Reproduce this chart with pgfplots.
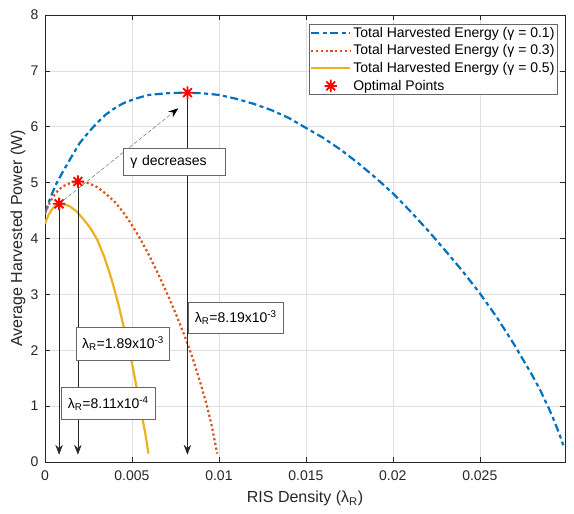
\documentclass[border=0pt]{standalone}
\usepackage{fontspec}
\setmainfont{Liberation Sans}
\usepackage{pgfplots}
\pgfplotsset{compat=1.18}
\usetikzlibrary{arrows.meta}
\definecolor{mblue}{rgb}{0,0.447,0.741}
\definecolor{morange}{rgb}{0.85,0.325,0.098}
\definecolor{myellow}{rgb}{0.929,0.694,0.125}
\definecolor{axgray}{rgb}{0.15,0.15,0.15}
\definecolor{gridgray}{rgb}{0.88,0.88,0.88}
\definecolor{boxgray}{rgb}{0.4,0.4,0.4}
\newcommand\fs{\fontsize{14bp}{16bp}\selectfont}
\newcommand\fl{\fontsize{16bp}{18bp}\selectfont}
\pgfdeclareplotmark{star8}{%
 \pgfpathmoveto{\pgfqpoint{0pt}{\pgfplotmarksize}}\pgfpathlineto{\pgfqpoint{0pt}{-\pgfplotmarksize}}%
 \pgfpathmoveto{\pgfqpoint{\pgfplotmarksize}{0pt}}\pgfpathlineto{\pgfqpoint{-\pgfplotmarksize}{0pt}}%
 \pgfpathmoveto{\pgfqpoint{.7071\pgfplotmarksize}{.7071\pgfplotmarksize}}\pgfpathlineto{\pgfqpoint{-.7071\pgfplotmarksize}{-.7071\pgfplotmarksize}}%
 \pgfpathmoveto{\pgfqpoint{-.7071\pgfplotmarksize}{.7071\pgfplotmarksize}}\pgfpathlineto{\pgfqpoint{.7071\pgfplotmarksize}{-.7071\pgfplotmarksize}}%
 \pgfusepathqstroke}

\pgfplotstableread{
x y
0 4.45
0.0003 4.72
0.0006 4.95
0.001 5.18
0.0015 5.45
0.002 5.71
0.0025 5.90
0.003 6.07
0.0035 6.22
0.004 6.33
0.0045 6.42
0.005 6.48
0.0055 6.53
0.006 6.57
0.007 6.60
0.008 6.61
0.00819 6.61
0.009 6.60
0.010 6.57
0.011 6.50
0.012 6.41
0.013 6.30
0.014 6.16
0.015 5.98
0.016 5.80
0.017 5.59
0.018 5.35
0.019 5.09
0.020 4.81
0.021 4.49
0.022 4.15
0.023 3.79
0.024 3.42
0.025 3.02
0.026 2.58
0.027 2.09
0.028 1.56
0.0285 1.27
0.029 0.94
0.0293 0.72
0.0296 0.48
0.0298 0.30
}\blue

\pgfplotstableread{
x y
0 4.45
0.0003 4.66
0.0006 4.81
0.001 4.93
0.0015 5.00
0.00189 5.02
0.0025 4.99
0.003 4.92
0.0035 4.80
0.004 4.66
0.0045 4.47
0.005 4.24
0.0055 3.98
0.006 3.69
0.0065 3.37
0.007 3.03
0.0075 2.67
0.008 2.28
0.0085 1.85
0.009 1.35
0.0093 1.02
0.0096 0.63
0.0099 0.15
}\red

\pgfplotstableread{
x y
0 4.27
0.0002 4.42
0.0004 4.52
0.0006 4.59
0.000811 4.62
0.001 4.62
0.0014 4.58
0.0018 4.49
0.0022 4.35
0.0026 4.19
0.003 3.98
0.0034 3.68
0.0038 3.30
0.0042 2.85
0.0046 2.32
0.005 1.77
0.0054 1.12
0.0058 0.45
0.00595 0.15
}\yellow

\begin{document}
\begin{tikzpicture}
\begin{axis}[name=ax, scale only axis, width=520bp, height=447bp,
 xmin=0, xmax=0.0299, ymin=0, ymax=8,
 xtick={0,0.005,0.01,0.015,0.02,0.025},
 xticklabels={0,0.005,0.01,0.015,0.02,0.025},
 ytick={0,1,2,3,4,5,6,7,8},
 yticklabels={0,1,2,3,4,5,6,7,8},
 /pgf/number format/assume math mode=true,
 scaled x ticks=false,
 grid=major, major grid style={gridgray, line width=0.5bp},
 axis line style={axgray, line width=0.6bp},
 tick style={axgray, line width=0.5bp}, major tick length=5bp,
 ticklabel style={font=\fs, text=axgray},
 xticklabel style={yshift=-5bp},
 yticklabel style={xshift=-3bp},
 xlabel={RIS Density (λ\textsubscript{R})},
 ylabel={Average Harvested Power (W)},
 label style={font=\fl, text=axgray},
 xlabel style={at={(axis description cs:0.5,-0.0917)}, anchor=base},
 ylabel style={at={(axis description cs:-0.052,0.5)}, anchor=center},
 legend style={at={(axis description cs:0.986,0.98)}, anchor=north east,
   font=\fs, draw=boxgray, line width=0.5bp, fill=white,
   inner xsep=1bp, inner ysep=1bp, row sep=2bp,
   nodes={inner sep=2bp}},
 legend cell align=left,
 legend image code/.code={\draw[mark repeat=2,mark phase=2,#1] plot coordinates {(0bp,0bp) (19.5bp,0bp) (39bp,0bp)};},
]
\addplot[mblue, line width=2.2bp, dash pattern=on 8bp off 3.5bp on 4bp off 3.5bp] table {\blue};
\addlegendentry{Total Harvested Energy (γ = 0.1)}
\addplot[morange, line width=2.2bp, dash pattern=on 2.2bp off 2.6bp] table {\red};
\addlegendentry{Total Harvested Energy (γ = 0.3)}
\addplot[myellow, line width=2.2bp] table {\yellow};
\addlegendentry{Total Harvested Energy (γ = 0.5)}
\addplot[only marks, mark=star8, mark size=6.2bp, red, mark options={line width=1.8bp}] coordinates {(0.000811,4.62) (0.00189,5.02) (0.00819,6.61)};
\addlegendentry{Optimal Points}

\draw[black!85, line width=0.6bp, -{Stealth[length=10bp,width=7.5bp,inset=3.5bp]}] (axis cs:0.000811,4.62) -- (axis cs:0.000811,0.13);
\draw[black!85, line width=0.6bp, -{Stealth[length=10bp,width=7.5bp,inset=3.5bp]}] (axis cs:0.00189,5.02) -- (axis cs:0.00189,0.13);
\draw[black!85, line width=0.6bp, -{Stealth[length=10bp,width=7.5bp,inset=3.5bp]}] (axis cs:0.00819,6.61) -- (axis cs:0.00819,0.13);
\draw[black!55, line width=0.5bp, dash pattern=on 4bp off 2bp, -{Stealth[length=10bp,width=7.5bp,inset=3.5bp,black]}] (axis cs:0.000811,4.62) -- (axis cs:0.00766,6.33);

\node[draw=boxgray, fill=white, line width=0.5bp, text width=88bp, inner xsep=7bp, inner ysep=0bp, minimum height=27bp, align=left, font=\fs, text=black] at (axis cs:0.00744,5.37) {γ decreases};
\node[draw=boxgray, fill=white, line width=0.5bp, minimum width=95bp, minimum height=31.6bp, inner sep=0bp, font=\fs, text=black] at (axis cs:0.010966,2.585) {λ\textsubscript{R}=8.19x10\textsuperscript{-3}};
\node[draw=boxgray, fill=white, line width=0.5bp, minimum width=92.6bp, minimum height=32.7bp, inner sep=0bp, font=\fs, text=black] at (axis cs:0.004483,2.116) {λ\textsubscript{R}=1.89x10\textsuperscript{-3}};
\node[draw=boxgray, fill=white, line width=0.5bp, minimum width=93.3bp, minimum height=32bp, inner sep=0bp, font=\fs, text=black] at (axis cs:0.003638,1.050) {λ\textsubscript{R}=8.11x10\textsuperscript{-4}};
\end{axis}
\pgfresetboundingbox
\path ([shift={(-45bp,-52bp)}]ax.south west) rectangle ([shift={(9bp,15bp)}]ax.north east);
\end{tikzpicture}
\end{document}
